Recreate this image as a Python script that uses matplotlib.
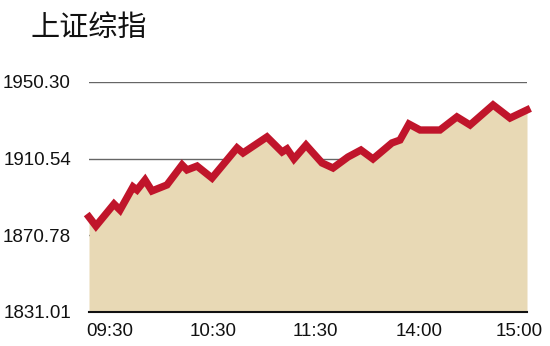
import matplotlib.pyplot as plt

# trading minutes since 09:30 (lunch break removed) and index values
minutes = [0, 3.8, 13.7, 17.0, 24.1, 26.3, 30.7, 34.5, 42.7, 51.0, 53.7, 59.2,
           67.4, 81.1, 84.4, 97.5, 105.8, 108.5, 112.3, 118.9, 127.7, 133.7,
           141.9, 149.0, 155.6, 166.0, 170.4, 175.3, 181.4, 192.3, 201.6,
           208.8, 221.4, 230.7, 240]
index = [1880.3, 1875.6, 1887.0, 1883.9, 1895.9, 1894.3, 1899.5, 1893.8,
         1896.9, 1907.3, 1904.7, 1906.7, 1900.5, 1916.1, 1913.5, 1921.8,
         1914.0, 1915.6, 1910.4, 1917.6, 1908.3, 1905.7, 1911.4, 1915.0,
         1910.4, 1918.7, 1920.2, 1928.5, 1925.4, 1925.4, 1932.2, 1928.0,
         1938.4, 1931.6, 1935.8]

y_ticks = [1831.01, 1870.78, 1910.54, 1950.30]
y_labels = ["1831.01", "1870.78", "1910.54", "1950.30"]
x_labels = ["09:30", "10:30", "11:30", "14:00", "15:00"]
x_ticks = [11.5, 67.9, 123.8, 180.8, 235.6]

plt.rcParams['font.family'] = ['Liberation Sans', 'DejaVu Sans']

fig = plt.figure(figsize=(5.5, 3.46), dpi=100)
ax = fig.add_axes([89 / 550, 1 - 312 / 346, 438 / 550, 230 / 346])

for v in y_ticks[1:]:
    ax.axhline(v, color="#666666", lw=1, zorder=1)

ax.fill_between(minutes, index, y_ticks[0], color="#E8D9B5", lw=0, zorder=2)
ax.plot(minutes, index, color="#C0152B", lw=5.3, solid_joinstyle="miter",
        zorder=3, clip_on=False)

ax.set_xlim(0, 240)
ax.set_ylim(y_ticks[0], y_ticks[-1])
ax.set_yticks(y_ticks)
ax.set_yticklabels(y_labels)
ax.set_xticks(x_ticks)
ax.set_xticklabels(x_labels)
ax.tick_params(length=0, labelsize=13.5, colors="#111111")
ax.tick_params(axis="y", pad=13)
ax.tick_params(axis="x", pad=8)

for s in ["top", "right", "left"]:
    ax.spines[s].set_visible(False)
ax.spines["bottom"].set_color("#111111")
ax.spines["bottom"].set_linewidth(1.5)
ax.spines["bottom"].set_zorder(4)

fig.text(31 / 550, 1 - 28 / 346, "上证综指", fontsize=21, va="center",
         family=["Noto Sans CJK SC", "DejaVu Sans"], color="#111111")

fig.savefig("out.png", dpi=100)
